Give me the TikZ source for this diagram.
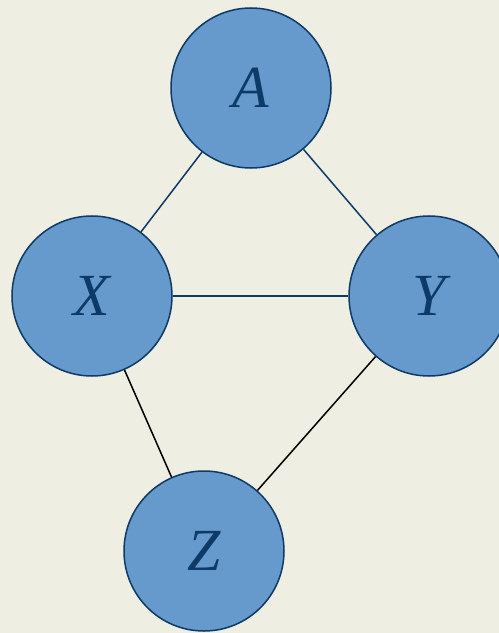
\documentclass[tikz,border=0pt]{standalone}
\usepackage{fontspec}
\setmainfont{Liberation Serif}
\begin{document}
\begin{tikzpicture}[x=1bp,y=-1bp,
  vnode/.style={circle, draw=nodeline, fill=nodefill, line width=1.5bp, minimum size=160bp, inner sep=0pt, text=nodeline, font=\fontsize{60}{60}\selectfont\itshape},
  blueedge/.style={draw=nodeline, line width=1.5bp},
  blackedge/.style={draw=black, line width=1.5bp}]
\definecolor{nodefill}{HTML}{6699CC}
\definecolor{nodeline}{HTML}{0D3A66}
\definecolor{bg}{HTML}{EEEEE2}
\fill[bg] (0,0) rectangle (499,633);
\useasboundingbox (0,0) rectangle (499,633);
\node[vnode] (A) at (251,88) {A};
\node[vnode] (X) at (92,296) {X};
\node[vnode] (Y) at (429,296) {Y};
\node[vnode] (Z) at (204,551) {Z};
\draw[blueedge] (A) -- (X);
\draw[blueedge] (A) -- (Y);
\draw[blueedge] (X) -- (Y);
\draw[blackedge] (X) -- (Z);
\draw[blackedge] (Y) -- (Z);
\end{tikzpicture}
\end{document}
